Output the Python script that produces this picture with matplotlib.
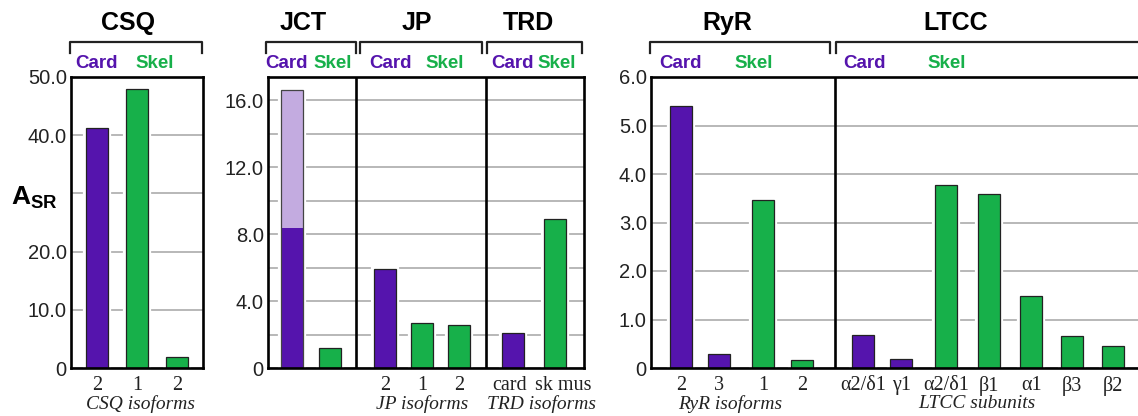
import numpy as np
import matplotlib
matplotlib.use("Agg")
import matplotlib.pyplot as plt
from matplotlib.transforms import Affine2D, blended_transform_factory
from matplotlib.lines import Line2D

plt.rcParams['font.family'] = ['Liberation Sans', 'DejaVu Sans']
plt.rcParams['mathtext.fontset'] = 'custom'
plt.rcParams['mathtext.bf'] = 'Liberation Sans:bold'
plt.rcParams['mathtext.rm'] = 'Liberation Sans'

# --- data -------------------------------------------------------------
csq_labels = ['2', '1', '2']
csq_values = [41.3, 47.9, 1.9]
csq_group = ['card', 'skel', 'skel']

jct_values = [8.4, 1.2]           # card (dark part), skel
jct_card_extra = 8.2              # light purple part on top of card bar
jct_group = ['card', 'skel']

jp_labels = ['2', '1', '2']
jp_values = [5.9, 2.7, 2.6]
jp_group = ['card', 'skel', 'skel']

trd_labels = ['card', 'sk mus']
trd_values = [2.1, 8.9]
trd_group = ['card', 'skel']

ryr_labels = ['2', '3', '1', '2']
ryr_values = [5.4, 0.28, 3.46, 0.16]
ryr_group = ['card', 'card', 'skel', 'skel']

ltcc_labels = ['α2/δ1', 'γ1', 'α2/δ1', 'β1', 'α1', 'β3', 'β2']
ltcc_values = [0.69, 0.18, 3.77, 3.58, 1.49, 0.65, 0.45]
ltcc_group = ['card', 'card', 'skel', 'skel', 'skel', 'skel', 'skel']

# --- style ------------------------------------------------------------
PURPLE = '#5514ad'
LIGHT = '#c3abe0'
GREEN = '#17b04a'
colors = {'card': PURPLE, 'skel': GREEN}
GRID = '#ababab'
SERIF = ['Liberation Serif', 'DejaVu Serif']
BW = 0.55

W, H = 1138, 416
fig = plt.figure(figsize=(W / 100, H / 100), dpi=100)
pix = Affine2D().scale(1 / W, -1 / H).translate(0, 1) + fig.transFigure


def make_ax(left, right, top=77, bottom=368):
    ax = fig.add_axes([left / W, 1 - bottom / H, (right - left) / W, (bottom - top) / H])
    for s in ax.spines.values():
        s.set_linewidth(1.9)
        s.set_zorder(5)
    ax.tick_params(axis='y', length=0, pad=3)
    ax.tick_params(axis='x', length=0, pad=6)
    ax.yaxis.grid(True, color=GRID, linewidth=1.2, zorder=0)
    ax.set_axisbelow(True)
    return ax


def draw_bars(ax, pos, vals, groups):
    ax.bar(pos, vals, BW, color='white', edgecolor='white', linewidth=4.5, zorder=1.5)
    ax.bar(pos, vals, BW, color=[colors[g] for g in groups], edgecolor='#222222',
           linewidth=0.9, zorder=2)


def set_yticks(ax, ticks, labels):
    ax.set_yticks(ticks)
    ax.set_yticklabels(labels, fontsize=14.5, color='#222222')


def set_xticks(ax, pos, labels):
    ax.set_xticks(pos)
    ax.set_xticklabels(labels, fontsize=14.5, family=SERIF, color='#222222')


def xlabel(ax, x, text):
    tr = blended_transform_factory(ax.transData, pix)
    ax.text(x, 404, text, transform=tr, ha='center', va='center', fontsize=14,
            family=SERIF, style='italic', color='#222222', clip_on=False)


# panel 1 : CSQ
ax1 = make_ax(71, 203)
p1 = np.arange(len(csq_values))
draw_bars(ax1, p1, csq_values, csq_group)
ax1.set_xlim(-0.65, 2.65)
ax1.set_ylim(0, 50)
set_yticks(ax1, [0, 10, 20, 30, 40, 50], ['0', '10.0', '20.0', '', '40.0', '50.0'])
set_xticks(ax1, p1, csq_labels)
xlabel(ax1, 1.1, 'CSQ isoforms')

# panel 2 : JCT / JP / TRD
ax2 = make_ax(268, 584)
p_jct = [0.6, 1.55]
p_jp = [2.93, 3.85, 4.78]
p_trd = [6.13, 7.18]
lab_trd = [6.03, 7.38]   # label positions (slightly off the bars, as in the original)
jct_total = jct_values[0] + jct_card_extra
ax2.bar(p_jct, [jct_total, jct_values[1]], BW, color='white', edgecolor='white',
        linewidth=4.5, zorder=1.5)
ax2.bar(p_jct[0], jct_values[0], BW, color=PURPLE, linewidth=0, zorder=2)
ax2.bar(p_jct[0], jct_card_extra, BW, bottom=jct_values[0], color=LIGHT, linewidth=0, zorder=2)
ax2.bar(p_jct[0], jct_total, BW, fill=False, edgecolor='#444444', linewidth=0.9, zorder=2.1)
ax2.bar(p_jct[1], jct_values[1], BW, color=GREEN, edgecolor='#222222', linewidth=0.9, zorder=2)
draw_bars(ax2, p_jp, jp_values, jp_group)
draw_bars(ax2, p_trd, trd_values, trd_group)
for xd in (2.2, 5.45):
    ax2.axvline(xd, color='black', linewidth=1.9, zorder=5)
ax2.set_xlim(0, 7.9)
ax2.set_ylim(0, 17.4)
set_yticks(ax2, np.arange(0, 17, 2),
           ['0', '', '4.0', '', '8.0', '', '12.0', '', '16.0'])
set_xticks(ax2, p_jp + lab_trd, jp_labels + trd_labels)
xlabel(ax2, 3.85, 'JP isoforms')
xlabel(ax2, 6.83, 'TRD isoforms')

# panel 3 : RyR / LTCC
ax3 = make_ax(651, 1146)
p_ryr = [0.75, 1.7, 2.8, 3.775]
p_ltcc = [5.3, 6.26, 7.375, 8.45, 9.51, 10.53, 11.56]
draw_bars(ax3, p_ryr, ryr_values, ryr_group)
draw_bars(ax3, p_ltcc, ltcc_values, ltcc_group)
ax3.axvline(4.61, color='black', linewidth=1.9, zorder=5)
ax3.set_xlim(0, 12.375)
ax3.set_ylim(0, 6)
set_yticks(ax3, np.arange(0, 7), ['0', '1.0', '2.0', '3.0', '4.0', '5.0', '6.0'])
set_xticks(ax3, p_ryr + p_ltcc, ryr_labels + ltcc_labels)
xlabel(ax3, 1.975, 'RyR isoforms')
xlabel(ax3, 8.15, 'LTCC subunits')

# --- headers: titles, brackets, Card / Skel -----------------------------
titles = [('CSQ', 128), ('JCT', 303), ('JP', 417), ('TRD', 528), ('RyR', 727), ('LTCC', 956)]
for t, x in titles:
    fig.text(x / W, 1 - 23 / H, t, ha='center', va='center', fontsize=18,
             fontweight='bold', color='black')

brackets = [(70, 202), (266, 356), (360, 482), (487, 582), (650, 830), (836, 1150)]
for x0, x1 in brackets:
    fig.add_artist(Line2D([x0, x0, x1, x1], [53, 42, 42, 53], transform=pix,
                          color='#222222', linewidth=1.6))

card_x = [96, 287, 391, 513, 680, 865]
skel_x = [155, 333, 445, 557, 754, 947]
for x in card_x:
    fig.text(x / W, 1 - 63 / H, 'Card', ha='center', va='center', fontsize=13.5,
             fontweight='bold', color=PURPLE)
for x in skel_x:
    fig.text(x / W, 1 - 63 / H, 'Skel', ha='center', va='center', fontsize=13.5,
             fontweight='bold', color=GREEN)

fig.text(11 / W, 1 - 198 / H, r'$\mathbf{A_{SR}}$', ha='left', va='center', fontsize=19)

fig.savefig('out.png', dpi=100)
